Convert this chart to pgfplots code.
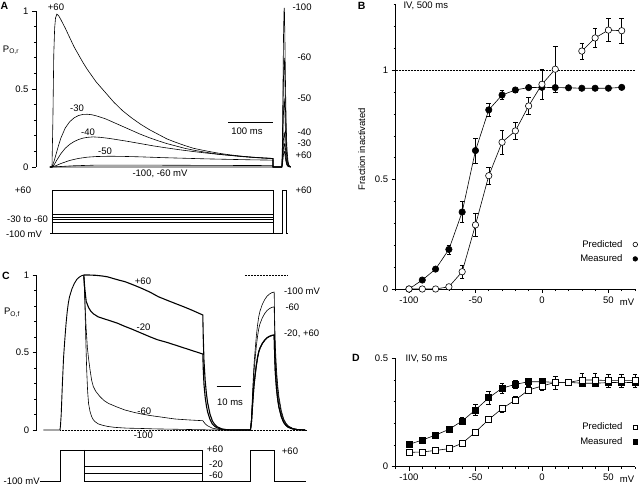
\documentclass[border=0pt]{standalone}
\usepackage{pgfplots}
\pgfplotsset{compat=1.18}
\usepackage{fontspec}
\setmainfont{Liberation Sans}
\pgfplotsset{
  every axis/.append style={font=\fontsize{9.5}{11}\selectfont, scale only axis, clip=false},
  basestyle/.style={axis line style={line width=0.6pt}, tick style={line width=0.6pt, black}, tick align=outside, major tick length=4pt, minor tick length=2.2pt},
  tr/.style={black, line width=0.6pt, mark=none},
  trb/.style={black, line width=1.1pt, mark=none},
}
\begin{document}
\begin{tikzpicture}[x=1pt,y=1pt,font=\fontsize{9.5}{11}\selectfont]
\path[use as bounding box] (0,0) rectangle (640,487);

% ---------------- Panel A ----------------
\begin{axis}[basestyle, at={(36pt,320pt)}, anchor=south west, width=263.5pt, height=156pt,
  xmin=-36.2, xmax=560, ymin=0, ymax=1, axis x line=none, axis y line*=left,
  ytick={0,0.5,1}, yticklabels={0,0.5,1}, minor ytick={0.1,0.2,0.3,0.4,0.6,0.7,0.8,0.9}]
% -100 (and -60 near zero)
\addplot[tr] coordinates {(-5,0)(520,0)(521,0.102)(522,0.337)(523,0.632)(524,0.877)(525,1.0)(525.5,1.02)(526,0.989)(527,0.816)(528,0.592)(529,0.408)(530,0.265)(531,0.163)(532,0.102)(534,0.036)(536,0.012)(540,0)};
% -60
\addplot[tr] coordinates {(-5,0)(0,0)(50,0.008)(100,0.012)(200,0.012)(300,0.011)(400,0.01)(500,0.009)(500,0)(520,0)(521,0.07)(522,0.231)(523,0.434)(524,0.602)(525,0.686)(525.5,0.70)(526,0.679)(527,0.56)(528,0.406)(529,0.28)(530,0.182)(531,0.112)(532,0.07)(534,0.025)(536,0.008)(540,0)};
% -50
\addplot[tr] coordinates {(-5,0)(0,0)(10,0.01)(20,0.022)(40,0.042)(60,0.055)(80,0.063)(100,0.067)(130,0.069)(160,0.068)(200,0.065)(250,0.06)(300,0.056)(350,0.052)(400,0.049)(450,0.046)(500,0.044)(500,0)(520,0)(521,0.043)(522,0.142)(523,0.267)(524,0.37)(525,0.421)(525.5,0.43)(526,0.417)(527,0.344)(528,0.249)(529,0.172)(530,0.112)(531,0.069)(532,0.043)(534,0.015)(536,0.005)(540,0)};
% -40
\addplot[tr] coordinates {(-5,0)(0,0)(5,0.015)(10,0.04)(20,0.085)(30,0.12)(40,0.145)(50,0.163)(60,0.176)(70,0.185)(80,0.19)(93,0.193)(110,0.19)(130,0.183)(150,0.174)(170,0.165)(200,0.15)(230,0.135)(260,0.122)(290,0.11)(320,0.099)(350,0.089)(380,0.08)(410,0.073)(440,0.066)(470,0.06)(500,0.055)(500,0)(520,0)(521,0.022)(522,0.073)(523,0.136)(524,0.189)(525,0.216)(525.5,0.22)(526,0.213)(527,0.176)(528,0.128)(529,0.088)(530,0.057)(531,0.035)(532,0.022)(534,0.008)(536,0.003)(540,0)};
% -30
\addplot[tr] coordinates {(-5,0)(0,0)(5,0.04)(10,0.09)(15,0.14)(20,0.185)(30,0.25)(40,0.29)(50,0.315)(60,0.33)(70,0.337)(80,0.338)(90,0.335)(100,0.328)(120,0.31)(140,0.285)(160,0.26)(180,0.235)(200,0.21)(220,0.188)(240,0.168)(260,0.15)(280,0.135)(300,0.12)(320,0.108)(340,0.098)(360,0.089)(380,0.081)(400,0.075)(420,0.069)(440,0.064)(460,0.06)(480,0.057)(500,0.055)(500,0)(520,0)(521,0.015)(522,0.05)(523,0.093)(524,0.129)(525,0.147)(525.5,0.15)(526,0.146)(527,0.12)(528,0.087)(529,0.06)(530,0.039)(531,0.024)(532,0.015)(534,0.005)(536,0.002)(540,0)};
% +60
\addplot[tr] coordinates {(-5,0)(0,0)(2,0.3)(4,0.72)(6,0.89)(8,0.955)(11,0.98)(15,0.97)(20,0.945)(30,0.89)(40,0.83)(50,0.77)(60,0.72)(70,0.67)(80,0.625)(90,0.585)(100,0.545)(120,0.48)(140,0.415)(160,0.36)(180,0.315)(200,0.275)(220,0.24)(240,0.21)(260,0.18)(280,0.158)(300,0.138)(320,0.12)(340,0.108)(360,0.097)(380,0.087)(400,0.079)(420,0.072)(440,0.066)(460,0.061)(480,0.057)(500,0.054)(500,0)(520,0)(521,0.01)(522,0.033)(523,0.062)(524,0.086)(525,0.098)(525.5,0.10)(526,0.097)(527,0.08)(528,0.058)(529,0.04)(530,0.026)(531,0.016)(532,0.01)(534,0.004)(536,0.001)(540,0)};
\end{axis}
% A protocol
\begin{axis}[at={(36pt,254pt)}, anchor=south west, width=263.5pt, height=43pt,
  xmin=-36.2, xmax=560, ymin=-100, ymax=60, hide axis]
\addplot[tr] coordinates {(-4.5,-100)(0,-100)(0,60)(500,60)(500,-100)(520,-100)(520,60)(529,60)(529,-100)(533,-100)};
\addplot[tr] coordinates {(0,-100)(500,-100)};
\addplot[tr] coordinates {(0,-30)(500,-30)};
\addplot[tr] coordinates {(0,-40)(500,-40)};
\addplot[tr] coordinates {(0,-50)(500,-50)};
\addplot[tr] coordinates {(0,-60)(500,-60)};
\end{axis}
\node[font=\fontsize{10.5}{12}\selectfont\bfseries] at (4.5,481) {A};
\node at (11,437) {P\textsubscript{O,r}};
\node at (56,479.5) {+60};
\node at (77,379) {-30};
\node at (88,355) {-40};
\node at (105,336) {-50};
\node at (160,313) {-100, -60 mV};
\draw[line width=0.6pt] (228,364.3) -- (273,364.3);
\node at (247,356) {100 ms};
\node[anchor=west] at (289,480) {-100};
\node[anchor=west] at (294,430) {-60};
\node[anchor=west] at (294,389) {-50};
\node[anchor=west] at (294,355) {-40};
\node[anchor=west] at (294,344) {-30};
\node[anchor=west] at (292,332) {+60};
\node at (23,296.3) {+60};
\node at (27.5,268) {-30 to -60};
\node at (24,253) {-100 mV};
\node[anchor=west] at (292,296.3) {+60};

% ---------------- Panel C ----------------
\begin{axis}[basestyle, at={(36.7pt,57pt)}, anchor=south west, width=270.8pt, height=155pt,
  xmin=-9.8, xmax=104, ymin=0, ymax=1, axis x line=none, axis y line*=left,
  ytick={0,0.5,1}, yticklabels={0,0.5,1}, minor ytick={0.1,0.2,0.3,0.4,0.6,0.7,0.8,0.9}]
\addplot[black, line width=0.5pt, densely dotted] coordinates {(0,0)(103.4,0)};
\addplot[black, line width=0.5pt, densely dotted] coordinates {(77.7,1)(95.8,1)};
% initial rise
\addplot[black, line width=0.9pt] coordinates {(-7,0)(0,0)(0.2,0.03)(0.5,0.1)(1,0.3)(1.5,0.47)(2,0.58)(2.5,0.68)(3,0.76)(3.5,0.82)(4,0.86)(5,0.91)(6,0.945)(7,0.97)(8,0.985)(9,0.995)(10,1.0)};
% -100
\addplot[tr] coordinates {(10,1.0)(10.4,0.85)(10.8,0.6)(11.2,0.39)(11.6,0.25)(12,0.17)(12.6,0.12)(13.3,0.086)(14,0.066)(14.7,0.054)(16,0.04)(17.5,0.032)(20,0.023)(23,0.017)(28,0.012)(34,0.01)(40,0.007)(48,0.005)(55,0.003)(62,0.001)(66,0)(80,0)(80.2,0.027)(80.5,0.089)(81,0.267)(81.5,0.418)(82,0.516)(82.5,0.605)(83,0.676)(83.5,0.73)(84,0.765)(85,0.81)(86,0.841)(87,0.863)(88,0.877)(89,0.886)(90,0.89)(90.2,0.712)(90.5,0.534)(91,0.383)(91.5,0.285)(92,0.214)(93,0.125)(94,0.071)(95,0.043)(96,0.025)(98,0.009)(100,0.003)(103,0)};
% -60
\addplot[tr] coordinates {(10,1.0)(10.3,0.9)(10.6,0.78)(11,0.65)(11.5,0.53)(12,0.46)(12.6,0.39)(13.3,0.32)(14,0.28)(15,0.25)(16.8,0.215)(18.5,0.19)(20.3,0.172)(24,0.148)(27.3,0.129)(31,0.114)(34.3,0.103)(38,0.093)(41.3,0.086)(45,0.078)(48.3,0.071)(54,0.065)(60,0.06)(61,0.04)(62,0.027)(64,0.012)(67,0.003)(70,0)(80,0)(80.2,0.024)(80.5,0.08)(81,0.239)(81.5,0.374)(82,0.461)(82.5,0.541)(83,0.604)(83.5,0.652)(84,0.684)(85,0.723)(86,0.751)(87,0.771)(88,0.783)(89,0.791)(90,0.795)(90.2,0.636)(90.5,0.477)(91,0.342)(91.5,0.254)(92,0.191)(93,0.111)(94,0.064)(95,0.038)(96,0.022)(98,0.008)(100,0.002)(103,0)};
% -20
\addplot[trb] coordinates {(10,1.0)(10.2,0.95)(10.5,0.9)(11,0.83)(12,0.79)(13,0.765)(14,0.75)(16,0.73)(18,0.72)(20,0.71)(24,0.69)(27,0.67)(30,0.652)(34,0.626)(38,0.6)(41,0.582)(45,0.565)(48,0.55)(52,0.53)(56,0.51)(60,0.49)(60.2,0.392)(60.5,0.294)(61,0.211)(61.5,0.157)(62,0.118)(63,0.069)(64,0.039)(65,0.024)(66,0.014)(68,0.005)(70,0.001)(73,0)(80,0)(80.2,0.018)(80.5,0.061)(81,0.184)(81.5,0.288)(82,0.356)(82.5,0.417)(83,0.466)(83.5,0.503)(84,0.527)(85,0.558)(86,0.579)(87,0.595)(88,0.604)(89,0.61)(90,0.613)(90.2,0.49)(90.5,0.368)(91,0.264)(91.5,0.196)(92,0.147)(93,0.086)(94,0.049)(95,0.029)(96,0.017)(98,0.006)(100,0.002)(103,0)};
% +60
\addplot[trb] coordinates {(10,1.0)(12,1.0)(15,0.998)(18,0.993)(20,0.988)(24,0.97)(27.3,0.957)(31,0.935)(34.3,0.914)(38,0.888)(41.3,0.86)(45,0.837)(48.3,0.817)(52,0.795)(55.3,0.774)(60,0.742)(60.2,0.594)(60.5,0.445)(61,0.319)(61.5,0.237)(62,0.178)(63,0.104)(64,0.059)(65,0.036)(66,0.021)(68,0.007)(70,0.002)(73,0)(80,0)(80.2,0.018)(80.5,0.061)(81,0.184)(81.5,0.288)(82,0.356)(82.5,0.417)(83,0.466)(83.5,0.503)(84,0.527)(85,0.558)(86,0.579)(87,0.595)(88,0.604)(89,0.61)(90,0.613)(90.2,0.49)(90.5,0.368)(91,0.264)(91.5,0.196)(92,0.147)(93,0.086)(94,0.049)(95,0.029)(96,0.017)(98,0.006)(100,0.002)(103,0)};
\end{axis}
% C protocol
\begin{axis}[at={(36.7pt,5.3pt)}, anchor=south west, width=270.8pt, height=31.7pt,
  xmin=-9.8, xmax=104, ymin=-100, ymax=60, hide axis]
\addplot[tr] coordinates {(-8.4,-100)(0,-100)(0,60)(60,60)(60,-100)(80,-100)(80,60)(90,60)(90,-100)(103.4,-100)};
\addplot[tr] coordinates {(10,60)(10,-100)(60,-100)};
\addplot[tr] coordinates {(10,-20)(60,-20)};
\addplot[tr] coordinates {(10,-60)(60,-60)};
\end{axis}
\node[font=\fontsize{10.5}{12}\selectfont\bfseries] at (6,211) {C};
\node at (12,174.3) {P\textsubscript{O,f}};
\node at (143,205.5) {+60};
\node at (143.5,160) {-20};
\node at (144.3,76) {-60};
\node at (143.3,51.3) {-100};
\draw[line width=0.6pt] (216.7,100.3) -- (241,100.3);
\node at (230,84.3) {10 ms};
\node[anchor=west] at (280.5,196) {-100 mV};
\node[anchor=west] at (282,179.7) {-60};
\node[anchor=west] at (280.5,153) {-20, +60};
\node at (215,37.7) {+60};
\node at (216,23) {-20};
\node at (216,12) {-60};
\node at (290,35.3) {+60};
\node at (21.7,5.3) {-100 mV};

% ---------------- Panel B ----------------
\begin{axis}[basestyle, at={(395.7pt,198pt)}, anchor=south west, width=239.3pt, height=284.3pt,
  xmin=-110, xmax=70, ymin=0, ymax=1.3, axis x line*=bottom, axis y line*=left,
  xtick={-100,-50,0,50}, xticklabels={-100,-50,0,50}, minor xtick={-110,-90,-80,-70,-60,-40,-30,-20,-10,10,20,30,40,60,70},
  ytick={0,0.5,1}, yticklabels={0,0.5,1}, minor ytick={0.1,0.2,0.3,0.4,0.6,0.7,0.8,0.9,1.1,1.2,1.3},
  error bars/error bar style={line width=0.5pt, black}, error bars/error mark options={line width=0.5pt, mark size=2.3pt, black, rotate=90},
  legend plot pos=right, legend cell align=right,
  legend style={draw=none, fill=none, inner sep=0pt, nodes={inner sep=1pt}, row sep=4pt, column sep=9.5pt, at={(axis cs:72.1,0.1706)}, anchor=east},
  legend image code/.code={\draw[#1] plot coordinates {(0cm,0cm)};}]
\addplot[black, line width=0.5pt, densely dotted, forget plot] coordinates {(-110,1)(70,1)};
\addplot[black, line width=0.6pt, mark=*, mark size=3.2pt, mark options={fill=black}, forget plot,
  error bars/.cd, y dir=both, y explicit] coordinates {
  (-100,0) +- (0,0) (-90,0.041) +- (0,0) (-80,0.091) +- (0,0) (-70,0.181) +- (0,0.02)
  (-60,0.352) +- (0,0.048) (-50,0.633) +- (0,0.057) (-40,0.819) +- (0,0.03) (-30,0.887) +- (0,0.02)
  (-20,0.91) +- (0,0.01) (-10,0.921) +- (0,0) (0,0.922) +- (0,0) (10,0.921) +- (0,0) (20,0.92) +- (0,0)
  (30,0.918) +- (0,0) (40,0.918) +- (0,0) (50,0.918) +- (0,0) (60,0.922) +- (0,0)};
\addplot[black, line width=0.6pt, mark=*, mark size=3.2pt, mark options={fill=white}, forget plot,
  error bars/.cd, y dir=both, y explicit] coordinates {
  (-100,0) +- (0,0) (-90,0) +- (0,0) (-80,0) +- (0,0) (-70,0.01) +- (0,0)
  (-60,0.079) +- (0,0.03) (-50,0.293) +- (0,0.053) (-40,0.518) +- (0,0.04) (-30,0.671) +- (0,0.057)
  (-20,0.723) +- (0,0.04) (-10,0.837) +- (0,0.04) (0,0.936) +- (0,0.067) (10,1.005) +- (0,0.105)};
\addplot[black, line width=0.6pt, mark=*, mark size=3.2pt, mark options={fill=white}, forget plot,
  error bars/.cd, y dir=both, y explicit] coordinates {
  (30,1.088) +- (0,0.036) (40,1.148) +- (0,0.044) (50,1.184) +- (0,0.053) (60,1.181) +- (0,0.056)};
\addlegendimage{only marks, black, line width=0.6pt, mark=*, mark size=2.3pt, mark options={fill=white}}
\addlegendentry{Predicted}
\addlegendimage{only marks, black, line width=0.6pt, mark=*, mark size=2.3pt, mark options={fill=black}}
\addlegendentry{Measured}
\end{axis}
\node[font=\fontsize{10.5}{12}\selectfont\bfseries] at (361.7,481) {B};
\node[anchor=west] at (400,481) {IV, 500 ms};
\node[rotate=90] at (361.7,338) {Fraction inactivated};
\node at (627,184.3) {mV};

% ---------------- Panel D ----------------
\begin{axis}[basestyle, at={(395.7pt,20.3pt)}, anchor=south west, width=239.3pt, height=108.4pt,
  xmin=-110, xmax=70, ymin=0, ymax=0.5, axis x line*=bottom, axis y line*=left,
  xtick={-100,-50,0,50}, xticklabels={-100,-50,0,50}, minor xtick={-110,-90,-80,-70,-60,-40,-30,-20,-10,10,20,30,40,60,70},
  ytick={0,0.5}, yticklabels={0,0.5}, minor ytick={0.1,0.2,0.3,0.4},
  error bars/error bar style={line width=0.5pt, black}, error bars/error mark options={line width=0.5pt, mark size=2.3pt, black, rotate=90},
  legend plot pos=right, legend cell align=right,
  legend style={draw=none, fill=none, inner sep=0pt, nodes={inner sep=1pt}, row sep=4pt, column sep=9.5pt, at={(axis cs:72.1,0.149)}, anchor=east},
  legend image code/.code={\draw[#1] plot coordinates {(0cm,0cm)};}]
\addplot[black, line width=0.6pt, mark=square*, mark size=3pt, mark options={fill=black}, forget plot,
  error bars/.cd, y dir=both, y explicit] coordinates {
  (-100,0.103) +- (0,0) (-90,0.123) +- (0,0) (-80,0.146) +- (0,0) (-70,0.172) +- (0,0)
  (-60,0.211) +- (0,0.015) (-50,0.262) +- (0,0.025) (-40,0.318) +- (0,0.03) (-30,0.362) +- (0,0.025)
  (-20,0.38) +- (0,0.02) (-10,0.392) +- (0,0.015) (0,0.392) +- (0,0.01) (10,0.389) +- (0,0)
  (20,0.389) +- (0,0.01) (30,0.385) +- (0,0.01) (40,0.385) +- (0,0.01) (50,0.388) +- (0,0.01)
  (60,0.389) +- (0,0.01) (70,0.388) +- (0,0.01)};
\addplot[black, line width=0.6pt, mark=square*, mark size=3pt, mark options={fill=white}, forget plot,
  error bars/.cd, y dir=both, y explicit] coordinates {
  (-100,0.066) +- (0,0) (-90,0.068) +- (0,0) (-80,0.075) +- (0,0) (-70,0.083) +- (0,0)
  (-60,0.108) +- (0,0) (-50,0.16) +- (0,0) (-40,0.218) +- (0,0) (-30,0.268) +- (0,0.015)
  (-20,0.308) +- (0,0.015) (-10,0.354) +- (0,0.015) (0,0.372) +- (0,0.02) (10,0.389) +- (0,0.03)
  (20,0.389) +- (0,0) (30,0.40) +- (0,0.03) (40,0.40) +- (0,0.03) (50,0.397) +- (0,0.03)
  (60,0.397) +- (0,0.03) (70,0.397) +- (0,0.03)};
\addlegendimage{only marks, black, line width=0.6pt, mark=square*, mark size=2.3pt, mark options={fill=white}}
\addlegendentry{Predicted}
\addlegendimage{only marks, black, line width=0.6pt, mark=square*, mark size=2.3pt, mark options={fill=black}}
\addlegendentry{Measured}
\end{axis}
\node[font=\fontsize{10.5}{12}\selectfont\bfseries] at (356,128.7) {D};
\node[anchor=west] at (402,128.7) {IIV, 50 ms};
\node at (627,8) {mV};
\end{tikzpicture}
\end{document}
